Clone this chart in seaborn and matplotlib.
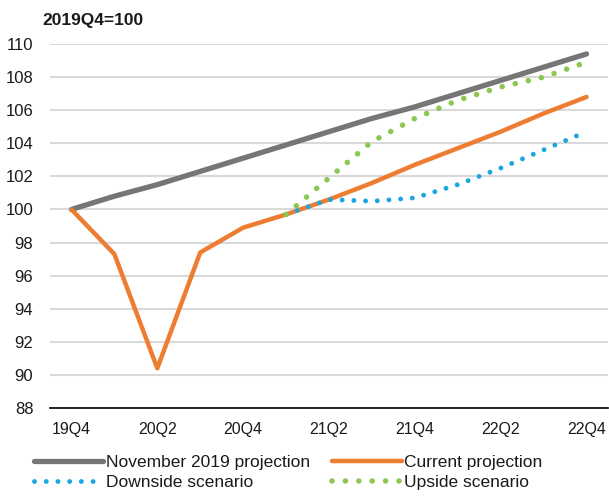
import pandas as pd
import numpy as np
import matplotlib.pyplot as plt
from matplotlib.lines import Line2D
import seaborn as sns

sns.set_style('white')
plt.rcParams['font.family'] = ['Liberation Sans', 'DejaVu Sans']
plt.rcParams['text.color'] = '#1a1a1a'
plt.rcParams['xtick.color'] = '#1a1a1a'
plt.rcParams['ytick.color'] = '#1a1a1a'

# Data (index, 2019Q4 = 100)
quarters = ['19Q4', '20Q1', '20Q2', '20Q3', '20Q4', '21Q1', '21Q2',
            '21Q3', '21Q4', '22Q1', '22Q2', '22Q3', '22Q4']
nov2019 = [100.0, 100.8, 101.5, 102.3, 103.1, 103.9, 104.7,
           105.5, 106.2, 107.0, 107.8, 108.6, 109.4]
current = [100.0, 97.3, 90.4, 97.4, 98.9, 99.7, 100.6,
           101.6, 102.7, 103.7, 104.7, 105.8, 106.8]
downside = [np.nan, np.nan, np.nan, np.nan, np.nan, 99.7, 100.6,
            100.5, 100.7, 101.5, 102.5, 103.6, 104.7]
upside = [np.nan, np.nan, np.nan, np.nan, np.nan, 99.7, 101.9,
          104.1, 105.5, 106.6, 107.4, 108.0, 108.9]
tick_labels = ['19Q4', '20Q2', '20Q4', '21Q2', '21Q4', '22Q2', '22Q4']

df = pd.DataFrame({'quarter': quarters, 'nov': nov2019, 'cur': current,
                   'down': downside, 'up': upside})

gray = '#767676'
orange = '#ED7D31'
blue = '#1AA7E0'
green = '#8CC751'
blue_dots = (0, (0.01, 2.4))
green_dots = (0, (0.01, 2.4))

fig = plt.figure(figsize=(6.09, 4.97), dpi=100)
ax = fig.add_axes([50 / 609, 1 - 408 / 497, 558 / 609, 364 / 497])

sns.lineplot(data=df, x='quarter', y='nov', ax=ax, color=gray, lw=3.8,
             solid_capstyle='round')
sns.lineplot(data=df, x='quarter', y='cur', ax=ax, color=orange, lw=3.2,
             solid_capstyle='round')
sns.lineplot(data=df, x='quarter', y='down', ax=ax, color=blue, lw=3.5,
             linestyle=blue_dots, dash_capstyle='round')
sns.lineplot(data=df, x='quarter', y='up', ax=ax, color=green, lw=4.0,
             linestyle=green_dots, dash_capstyle='round')

ax.set_xlim(-0.5, 12.5)
ax.set_ylim(88, 110)
ax.set_yticks(np.arange(88, 111, 2))
ax.yaxis.grid(True, color='#d9d9d9', lw=1.5)
ax.set_axisbelow(True)
ax.tick_params(axis='y', length=0, pad=12, labelsize=12)

ax.set_xticks(np.arange(0, 13, 2))
ax.set_xticklabels(tick_labels)
ax.set_xticks(np.arange(-0.5, 13, 1), minor=True)
ax.tick_params(axis='x', which='major', length=0, pad=10, labelsize=11.5)
ax.tick_params(axis='x', which='minor', direction='in', length=5,
               width=1.2, color='black')
ax.set_xlabel('')
ax.set_ylabel('')

for s in ['left', 'top', 'right']:
    ax.spines[s].set_visible(False)
ax.spines['bottom'].set_color('black')
ax.spines['bottom'].set_linewidth(1.2)

fig.text(42 / 609, 1 - 21 / 497, '2019Q4=100', fontsize=12.5,
         fontweight='bold', va='center')

handles = [
    Line2D([], [], color=gray, lw=3.8),
    Line2D([], [], color=blue, lw=3.5, linestyle=blue_dots,
           dash_capstyle='round'),
    Line2D([], [], color=orange, lw=3.2),
    Line2D([], [], color=green, lw=4.0, linestyle=green_dots,
           dash_capstyle='round'),
]
labels = ['November 2019 projection', 'Downside scenario',
          'Current projection', 'Upside scenario']
fig.legend(handles, labels, ncol=2, loc='upper left',
           bbox_to_anchor=(25 / 609, 1 - 446 / 497), frameon=False,
           fontsize=12.5, handlelength=4.0, handletextpad=0.15,
           columnspacing=1.3, labelspacing=0.3, borderpad=0)

fig.savefig('out.png', dpi=100)
